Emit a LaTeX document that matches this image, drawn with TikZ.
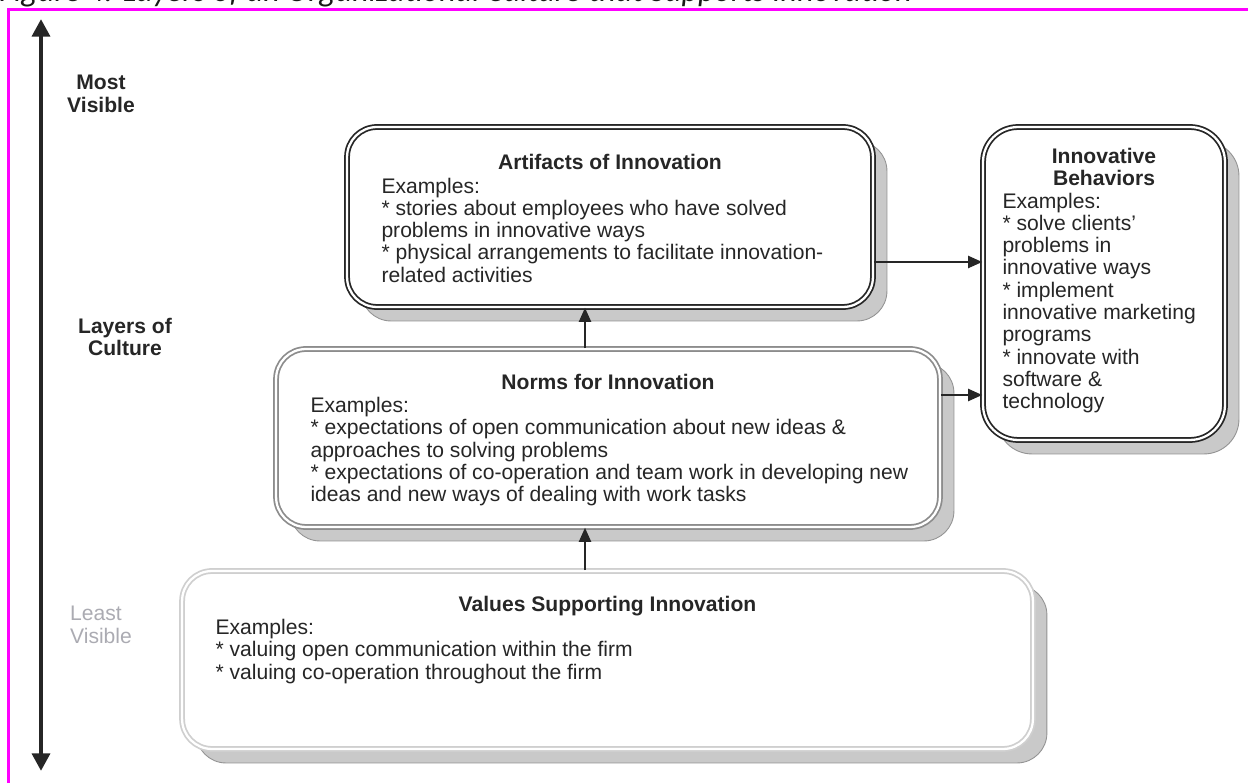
\documentclass[tikz,border=0pt]{standalone}
\usepackage{fontspec}
\setmainfont{Liberation Sans}
\newfontfamily\capfont{Carlito}
\usepackage{xcolor}
\usetikzlibrary{arrows.meta,positioning}

\definecolor{ink}{HTML}{262626}
\definecolor{mid}{HTML}{8C8C8C}
\definecolor{pale}{HTML}{CFCFCF}
\definecolor{shd}{HTML}{C9C9C9}
\definecolor{shdl}{HTML}{939393}
\definecolor{faint}{HTML}{ABABB2}
\definecolor{frm}{HTML}{FF00FF}

\begin{document}
\begin{tikzpicture}[x=0.02cm,y=-0.02cm,
		bx/.style={rounded corners=0.6cm,draw=#1,line width=1pt,double=white,double distance=1.3pt,fill=white,inner sep=0pt,
			preaction={fill=shd,draw=shdl,line width=0.5pt,transform canvas={xshift=0.28cm,yshift=-0.28cm}}},
		hd/.style={font=\bfseries\fontsize{12}{12.7}\selectfont,inner sep=0pt,align=center,text=ink},
		tx/.style={font=\fontsize{12}{12.7}\selectfont,inner sep=0pt,align=left,text=ink},
		ar/.style={-{Triangle[width=7pt,length=8pt]},line width=0.8pt,ink},
		ax/.style={{Triangle[width=10pt,length=10pt]}-{Triangle[width=10pt,length=10pt]},line width=2.8pt,ink}]
	\useasboundingbox (0,0) rectangle (1248,783);
	\node[anchor=base west,inner sep=0pt,text=black!90,font=\capfont\itshape\fontsize{18.3}{21}\selectfont] (cap) at (-1,2) {Figure 4: Layers of an Organizational Culture that Supports Innovation};
	\draw[frm,line width=1.3pt] (1250,9.5) -- (8.5,9.5) -- (8.5,786);

	\coordinate (up) at (41,19);
	\coordinate (dn) at (41,771);
	\draw[ax] (dn) -- (up);
	\node[hd] (most) at (101,94) {Most\\Visible};
	\node[hd] (lay) at (125,337) {Layers of\\Culture};
	\node[tx,text=faint] (least) at (101,625) {Least\\Visible};

	\node[bx=pale,minimum width=17.02cm,minimum height=3.56cm] (Val) at (607.5,660) {};
	\node[bx=mid,minimum width=13.28cm,minimum height=3.56cm] (Nor) at (608,438) {};
	\node[bx=ink,minimum width=10.52cm,minimum height=3.6cm] (Art) at (610,217) {};
	\node[bx=ink,minimum width=4.84cm,minimum height=6.26cm,rounded corners=0.7cm] (Beh) at (1104,283.5) {};

	\node[hd,below=0.55cm of Art.north] (ArtH) {Artifacts of Innovation};
	\node[tx,anchor=north west] (ArtT) at ([xshift=0.7cm,yshift=-1.025cm]Art.north west) {Examples:\\* stories about employees who have solved\\problems in innovative ways\\* physical arrangements to facilitate innovation-\\related activities};

	\node[hd,below=0.43cm of Beh.north] (BehH) {Innovative\\Behaviors};
	\node[tx,anchor=north west] (BehT) at ([xshift=0.4cm,yshift=-1.325cm]Beh.north west) {Examples:\\* solve clients'\\problems in\\innovative ways\\* implement\\innovative marketing\\programs\\* innovate with\\software \&\\technology};

	\node[hd,below=0.51cm of Nor.north] (NorH) {Norms for Innovation};
	\node[tx,anchor=north west] (NorT) at ([xshift=0.7cm,yshift=-0.975cm]Nor.north west) {Examples:\\* expectations of open communication about new ideas \&\\approaches to solving problems\\* expectations of co-operation and team work in developing new\\ideas and new ways of dealing with work tasks};

	\node[hd,below=0.51cm of Val.north] (ValH) {Values Supporting Innovation};
	\node[tx,anchor=north west] (ValT) at ([xshift=0.68cm,yshift=-0.975cm]Val.north west) {Examples:\\* valuing open communication within the firm\\* valuing co-operation throughout the firm};

	\coordinate (s) at (585,0);
	\coordinate (r1) at (0,262);
	\coordinate (r2) at (0,395);
	\draw[ar] (Val.north -| s) -- (Nor.south -| s);
	\draw[ar] (Nor.north -| s) -- (Art.south -| s);
	\draw[ar] (Art.east |- r1) -- (Beh.west |- r1);
	\draw[ar] (Nor.east |- r2) -- (Beh.west |- r2);
\end{tikzpicture}
\end{document}
